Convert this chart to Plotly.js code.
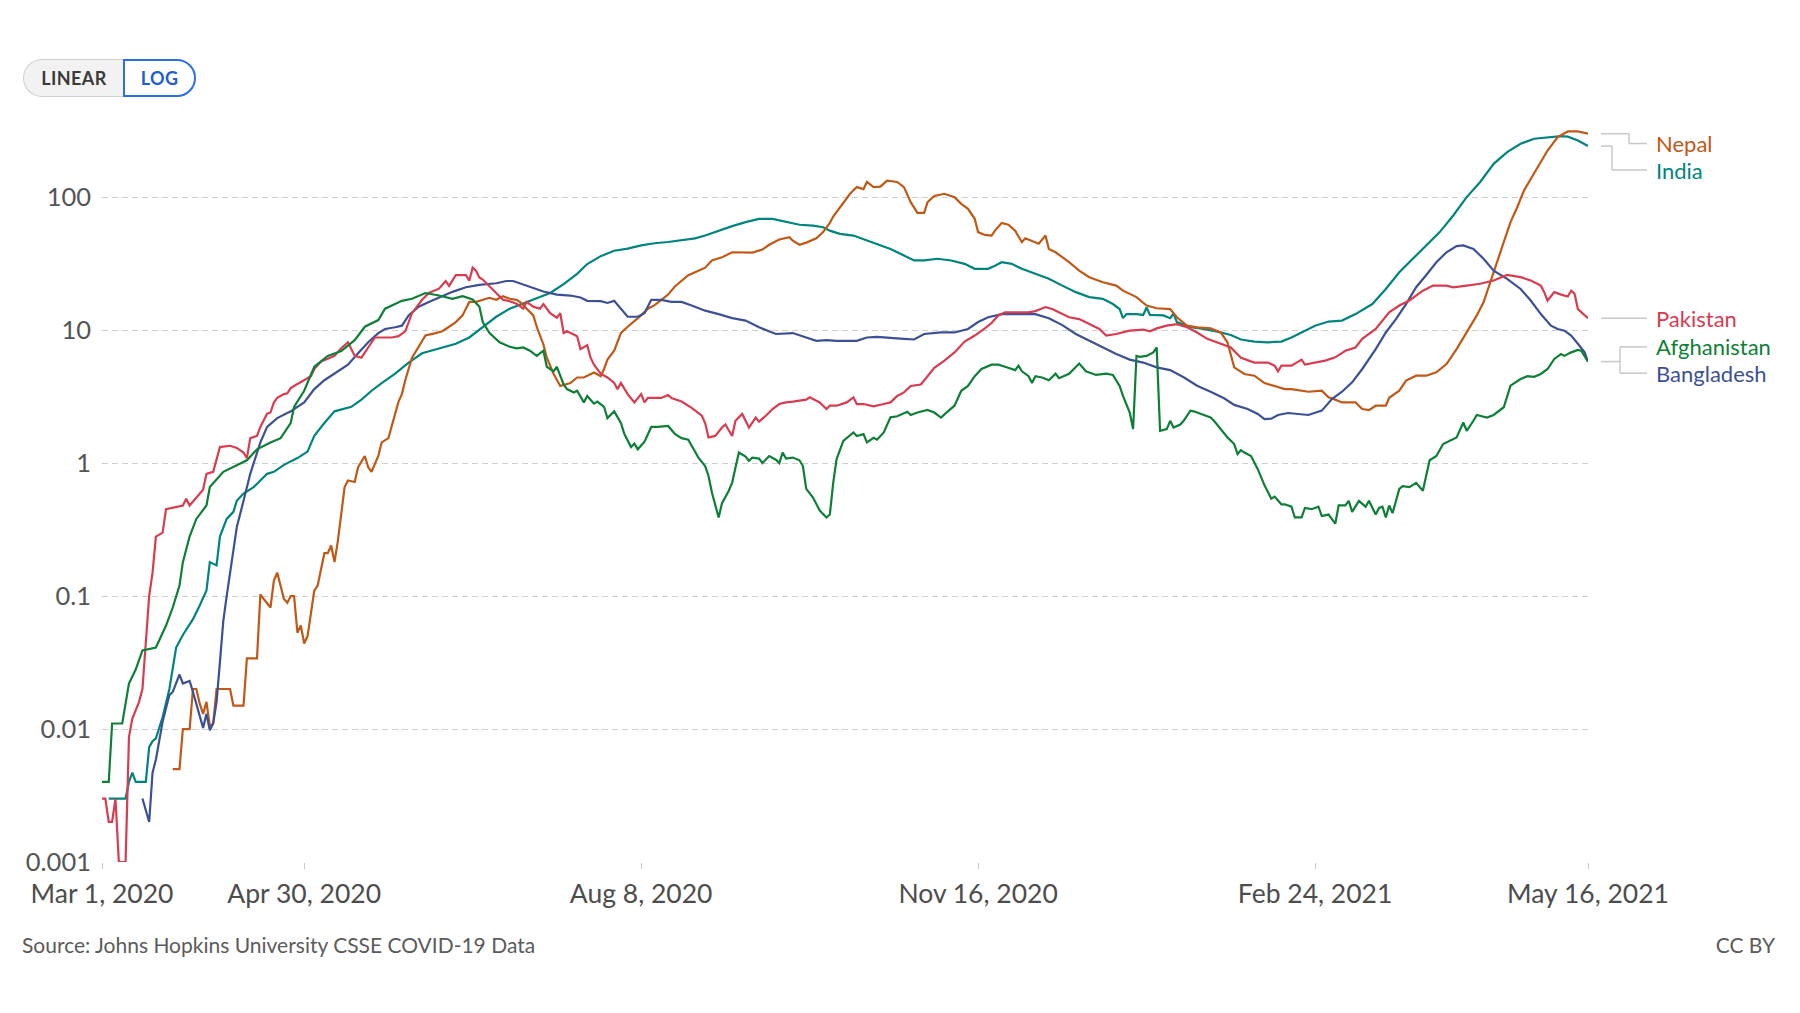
<!DOCTYPE html>
<html><head><meta charset="utf-8">
<script src="https://cdn.plot.ly/plotly-3.0.1.min.js"></script>
<style>
html,body{margin:0;padding:0;background:#fff;}
#wrap{position:relative;width:1800px;height:1013px;overflow:hidden;font-family:Lato,"DejaVu Sans",sans-serif;}
#chart{position:absolute;left:0;top:0;width:1800px;height:1013px;}
.btn{position:absolute;top:59px;height:38px;box-sizing:border-box;font-size:18px;font-weight:700;display:flex;align-items:center;justify-content:center;letter-spacing:0.4px;font-family:Lato,sans-serif;}
#lin{left:23px;width:101px;border:1.5px solid #cfcfcf;border-right:none;border-radius:19px 0 0 19px;background:#f2f2f2;color:#3a3a3a;}
#log{left:123px;width:73px;border:2px solid #2b6ee6;border-radius:0 19px 19px 0;background:#fff;color:#1f5fd1;}
.foot{position:absolute;font-size:21px;color:#5b5b5b;font-family:Lato,sans-serif;line-height:1;}
</style></head>
<body>
<div id="wrap">
  <div id="chart"></div>
  <div class="btn" id="lin">LINEAR</div>
  <div class="btn" id="log">LOG</div>
  <div class="foot" id="src" style="left:22px;top:934px;">Source: Johns Hopkins University CSSE COVID-19 Data</div>
  <div class="foot" id="cc" style="right:25px;top:934px;">CC BY</div>
</div>
<script>
// Daily new confirmed COVID-19 cases per million (7-day avg), days since Mar 1, 2020
const START_DATE = "2020-03-01";
const END_DATE = "2021-05-16";

const afghanistanDays = [0,2,3,6,8,10,12,16,19,21,23,24,26,28,31,32,36,40,43,46,50,53,56,57,60,63,67,71,75,78,82,84,89,92,96,100,104,107,110,112,113,115,118,121,123,125,127,129,131,132,134,135,137,138,140,141,143,144,146,147,149,150,152,154,155,157,158,159,161,163,165,168,170,172,174,175,177,179,180,181,183,184,186,187,189,191,192,193,195,196,198,200,201,202,203,205,207,208,209,211,213,215,216,217,218,220,223,224,226,227,229,230,232,234,236,239,240,242,245,247,249,251,253,255,257,259,261,264,266,268,271,272,273,275,276,277,279,281,283,284,287,290,292,295,298,300,302,303,305,306,307,308,310,312,313,314,316,317,318,320,321,323,324,326,329,330,332,334,336,337,338,339,341,343,345,347,348,350,351,353,354,356,357,359,361,362,364,366,367,369,370,371,373,375,376,378,379,380,381,382,383,385,386,388,390,392,394,396,398,400,402,404,405,407,408,411,413,416,418,421,423,425,427,429,431,433,434,436,438,439,441];
const afghanistanValues = [0.004,0.004,0.011,0.011,0.022,0.028,0.039,0.041,0.06,0.082,0.12,0.18,0.28,0.38,0.48,0.66,0.86,0.97,1.05,1.27,1.43,1.54,2.0,2.65,3.5,5.3,6.4,6.95,8.4,10.6,11.9,14.5,16.6,17.2,19,18.2,17.2,18,17,15,11.5,9.5,8.1,7.5,7.3,7.4,7.0,6.4,7.0,5.3,4.9,5.3,3.9,3.6,3.4,3.5,2.86,3.2,2.8,2.9,2.65,2.18,2.45,2.0,1.66,1.32,1.4,1.27,1.45,1.87,1.87,1.9,1.66,1.54,1.5,1.35,1.1,0.95,0.8,0.6,0.39,0.5,0.62,0.71,1.2,1.12,1.04,1.1,1.08,1.0,1.13,1.06,1.0,1.2,1.08,1.1,1.05,0.95,0.64,0.55,0.44,0.39,0.41,0.71,1.07,1.47,1.7,1.6,1.65,1.43,1.55,1.5,1.7,2.21,2.25,2.43,2.3,2.4,2.51,2.4,2.2,2.45,2.7,3.5,3.8,4.5,5.1,5.5,5.5,5.3,5.0,5.4,4.9,4.5,4.0,4.5,4.4,4.2,4.7,4.35,4.7,5.6,4.9,4.6,4.7,4.6,3.8,3.2,2.4,1.8,6.4,6.3,6.4,6.8,7.4,1.75,1.8,2.08,1.85,1.95,2.08,2.48,2.45,2.35,2.2,2.08,1.8,1.56,1.39,1.17,1.25,1.2,1.13,0.9,0.68,0.54,0.56,0.49,0.49,0.47,0.39,0.39,0.46,0.45,0.47,0.40,0.41,0.35,0.48,0.48,0.52,0.43,0.52,0.47,0.52,0.41,0.46,0.47,0.39,0.48,0.42,0.64,0.67,0.66,0.71,0.62,1.05,1.13,1.39,1.47,1.56,2.02,1.75,2.08,2.3,2.2,2.3,2.63,3.82,4.29,4.5,4.45,4.68,5.1,6.07,6.6,6.4,6.8,7.1,7.0,5.8];

const pakistanDays = [0,1,2,3,4,5,7,8,9,10,11,12,13,14,15,16,18,19,24,25,26,28,30,31,33,35,38,40,42,43,44,46,47,48,49,50,51,52,54,55,56,57,60,62,63,65,67,69,71,73,75,77,79,81,84,86,88,90,92,95,97,100,102,103,105,108,109,110,111,112,113,115,117,119,121,123,125,126,128,130,131,133,135,136,137,138,141,142,144,145,146,148,150,152,153,154,156,158,160,161,162,166,168,169,172,175,178,179,180,182,184,185,187,188,190,191,192,194,195,197,199,201,203,205,207,209,210,213,215,216,218,221,223,224,226,229,232,234,236,238,240,243,245,247,250,253,256,259,262,264,266,268,272,275,277,280,282,284,287,290,293,296,298,301,305,309,311,313,316,319,322,325,328,332,335,338,342,346,348,349,350,353,356,357,360,363,366,369,372,374,378,382,385,388,392,395,399,401,405,409,413,417,421,424,427,428,429,431,433,435,436,437,438,441];
const pakistanValues = [0.003,0.003,0.002,0.002,0.003,0.001,0.001,0.0087,0.012,0.0138,0.016,0.02,0.048,0.10,0.15,0.28,0.30,0.45,0.48,0.54,0.48,0.55,0.63,0.83,0.86,1.32,1.35,1.3,1.2,1.09,1.54,1.6,1.87,2.1,2.35,2.4,2.85,3.1,3.3,3.35,3.66,3.8,4.2,4.5,5.1,5.8,6.1,6.4,7.3,8.1,6.4,6.2,7.4,8.8,8.8,8.8,9.0,9.8,13.4,16.9,19,20.5,23.4,21.5,25.9,25.9,23.5,29.5,28,24.9,24,21.3,19,16.9,16.5,15.8,14.5,16.3,15,14.5,15.7,13.4,12.4,13.4,9.5,9.8,9.0,7.2,7.7,6.2,5.5,4.7,4.4,4.0,3.6,4.0,3.3,2.86,3.3,2.86,3.09,3.09,3.25,3.09,2.9,2.6,2.27,2.0,1.56,1.6,1.85,1.95,1.6,2.08,2.34,2.1,1.85,2.2,2.05,2.27,2.55,2.78,2.86,2.9,2.95,3.0,3.12,2.86,2.55,2.7,2.7,2.86,3.12,2.78,2.78,2.67,2.78,2.86,3.2,3.4,3.8,3.9,4.5,5.2,5.9,6.8,8.2,9.1,10.3,11.3,12.9,13.6,13.6,13.6,13.9,14.9,14.4,13.6,12.5,12.1,11.1,10.2,9.1,9.35,9.9,10.1,9.8,10.3,10.8,11.1,10.5,9.6,8.6,7.9,7.4,6.2,5.7,5.7,5.4,4.9,5.4,5.4,6.0,5.5,5.7,5.9,6.24,7.0,7.4,8.6,10.2,13.6,15.3,16.7,19.8,21.6,21.6,21,21.6,22.3,23.6,26,25,23.6,21.6,19.3,16.7,19.3,18.5,17.9,19.8,18.8,14.4,12.3];

const bangladeshDays = [12,14,15,16,18,20,21,23,24,26,27,29,30,31,32,33,34,35,36,37,39,40,42,44,47,49,52,56,60,63,66,69,73,76,79,82,84,87,89,91,94,97,100,104,108,112,117,120,122,125,128,131,135,139,142,144,148,150,152,154,156,159,161,163,166,169,172,175,179,183,187,191,195,200,205,209,212,215,218,224,227,230,234,238,241,244,249,253,257,260,263,267,270,277,281,285,289,293,297,301,305,309,313,317,321,325,329,333,336,340,343,345,347,349,352,356,358,362,365,368,371,374,378,381,384,387,390,393,396,399,402,404,407,410,413,417,421,424,427,430,432,434,436,438,440,441];
const bangladeshValues = [0.003,0.002,0.0047,0.0059,0.0114,0.018,0.019,0.0257,0.022,0.023,0.019,0.0128,0.0102,0.013,0.0098,0.011,0.016,0.032,0.065,0.10,0.22,0.33,0.52,0.83,1.43,1.87,2.18,2.45,2.86,3.6,4.2,4.7,5.5,6.7,8.1,9.5,10.2,10.5,10.8,12.9,15,16.3,17.6,19.4,21,21.9,22.5,23.4,23.4,22,20.5,19.5,18.5,18.2,17.6,16.6,16.5,16,16.6,14.5,12.6,12.6,13.4,16.9,16.9,16.3,16.3,15.3,14,13.2,12.3,11.8,10.5,9.35,9.5,8.8,8.3,8.4,8.3,8.3,8.8,8.9,8.8,8.6,8.5,9.35,9.6,9.6,10.2,11.5,12.5,13.2,13.2,13.2,12.3,10.9,9.36,8.3,7.4,6.6,6.0,5.7,5.25,5.0,4.42,3.82,3.44,3.07,2.74,2.55,2.34,2.14,2.16,2.3,2.38,2.34,2.3,2.48,3.03,3.44,4.05,5.1,7.2,9.6,12.1,15.7,21,26,32.4,38.5,42.8,43.3,40.8,34.4,28,24.3,20.4,16.7,13.2,10.8,10.2,9.9,9.1,7.9,6.8,5.8];

const indiaDays = [2,7,8,9,10,13,14,15,16,18,20,22,24,27,29,31,32,34,35,37,39,40,42,45,49,51,54,58,61,63,66,69,74,77,80,83,87,91,95,100,105,109,113,117,121,125,129,133,137,141,144,148,152,156,160,164,168,172,176,179,183,187,191,195,199,203,207,211,214,216,219,223,227,231,234,238,241,244,248,252,256,259,263,265,267,270,273,277,281,285,289,293,297,300,302,303,304,307,309,310,311,315,317,318,319,323,327,331,335,338,342,346,350,353,356,360,364,368,372,377,381,385,389,393,397,401,405,409,413,417,421,425,429,433,435,438,441];
const indiaValues = [0.003,0.003,0.004,0.0047,0.004,0.004,0.0073,0.0081,0.0085,0.0123,0.020,0.041,0.051,0.067,0.085,0.11,0.18,0.17,0.28,0.38,0.43,0.52,0.59,0.66,0.83,0.86,0.97,1.09,1.22,1.6,2.0,2.45,2.65,3.0,3.5,4.0,4.7,5.7,6.7,7.3,7.9,8.8,10.6,12.6,14.5,15.8,17.2,19,22.2,26.5,31.4,36,39.5,41,43.4,45,46,47.2,49,51.4,56.1,60.5,64.9,68.7,68.7,65.6,62,61,59.4,56,53,51.4,47.2,43.3,40.8,36.4,33.4,33.4,34.4,33.4,31.5,28.9,28.9,30.5,32.4,31.5,28.9,26.5,24.3,21.6,19.3,17.7,17.2,15.7,14.4,12.3,13.2,13.2,13,14.8,13,12.9,12.3,13.3,11.5,10.5,10.2,9.75,9.2,8.5,8.2,8.1,8.2,8.8,9.6,10.8,11.6,11.8,13.2,15.7,20.4,27.2,34.4,43.3,54.6,72.8,100,130,178,218,252,275,283,288,285,267,242];

const nepalDays = [21,23,24,26,27,28,29,30,31,32,33,34,38,39,42,43,46,47,48,50,51,52,54,55,56,57,58,59,60,61,63,64,66,67,68,69,70,72,73,75,76,78,79,80,82,83,85,86,87,88,89,90,92,94,96,99,101,103,105,107,108,109,111,113,115,117,119,121,123,124,126,128,129,131,132,133,134,136,137,139,141,143,146,148,149,150,152,154,156,158,160,162,164,166,168,170,172,174,177,179,181,184,187,190,193,196,198,201,204,205,207,209,212,214,216,217,219,220,222,224,226,227,229,231,233,236,238,240,242,244,245,247,249,250,253,255,257,259,260,262,264,265,267,269,271,273,274,276,278,280,281,283,287,290,293,297,301,303,307,310,313,317,319,322,325,329,332,334,336,339,342,345,348,351,353,356,358,362,364,366,368,372,374,376,378,381,382,385,387,390,393,396,399,402,404,406,408,410,412,414,416,418,420,422,424,427,429,432,435,438,441];
const nepalValues = [0.005,0.005,0.01,0.01,0.02,0.02,0.0155,0.013,0.016,0.0105,0.011,0.02,0.02,0.015,0.015,0.034,0.034,0.103,0.095,0.082,0.13,0.15,0.095,0.089,0.10,0.10,0.053,0.06,0.044,0.050,0.11,0.12,0.21,0.21,0.24,0.18,0.26,0.66,0.74,0.72,0.93,1.13,0.93,0.86,1.13,1.43,1.54,1.9,2.3,2.9,3.3,4.2,6.2,7.5,9.1,9.5,9.8,10.6,11.5,12.9,14.5,16.3,16.3,16.9,17.5,16.9,18,17.2,16.9,16.3,14.5,12.9,10.6,7.8,6.2,5.3,4.7,3.8,3.85,4.0,4.4,4.4,4.8,4.5,5.1,6.0,7.0,9.5,10.6,11.7,12.9,14.5,15.4,16.9,18.5,21.3,23.4,25.9,27.9,29.5,33.4,35.3,38.5,38.3,38.3,40.4,43.8,48,50,47,43.8,45.5,49.1,54.6,64.1,71.5,84.1,91.7,106,119,115,130,119,120,133,130,119,91.7,76.2,76.2,91.7,102,104,106,100,89,81.7,68.7,54.6,52,51.4,56,64,62,56,45.8,49,47,44.6,51.4,40.8,38.5,32.4,28,25,22.9,21.6,19.8,17.7,15.3,14.6,14.4,12.5,10.8,10.5,10.3,9.6,8.1,5.25,4.68,4.54,4.0,3.82,3.6,3.6,3.5,3.44,3.5,3.12,3.0,2.86,2.86,2.55,2.5,2.7,2.7,3.1,3.5,4.17,4.54,4.54,4.82,5.56,7.2,8.8,10.8,12.9,16.2,22.9,32.4,45.8,64.9,84,112,137,183,224,283,312,312,300];

const countryNames = ["Nepal","India","Pakistan","Afghanistan","Bangladesh"];
const countryColors = ["#C05917","#00847E","#D73C50","#0E7F36","#3C5096"];

const xTickVals = ["2020-03-01","2020-04-30","2020-08-08","2020-11-16","2021-02-24","2021-05-16"];
const xTickText = ["Mar 1, 2020","Apr 30, 2020","Aug 8, 2020","Nov 16, 2020","Feb 24, 2021","May 16, 2021"];
const yTickVals = [0.001,0.01,0.1,1,10,100];
const yTickText = ["0.001","0.01","0.1","1","10","100"];

const startMs = Date.UTC(2020,2,1);
function toDate(d){ return new Date(startMs + d*86400000).toISOString().slice(0,10); }

const seriesDays = {Nepal:nepalDays, India:indiaDays, Pakistan:pakistanDays, Afghanistan:afghanistanDays, Bangladesh:bangladeshDays};
const seriesValues = {Nepal:nepalValues, India:indiaValues, Pakistan:pakistanValues, Afghanistan:afghanistanValues, Bangladesh:bangladeshValues};

const drawOrder = ["India","Nepal","Bangladesh","Pakistan","Afghanistan"];
const traces = drawOrder.map(name=>{
  const i = countryNames.indexOf(name);
  return {
    x: seriesDays[name].map(toDate), y: seriesValues[name],
    type:"scatter", mode:"lines", name:name, hoverinfo:"skip",
    line:{color:countryColors[i], width:2.2}
  };
});

function lastVal(name){ const v = seriesValues[name]; return v[v.length-1]; }

// label layout: plot spans x 101.5..1588 px
const plotL = 101.5, plotW = 1486.5;
function px(p){ return (p - plotL)/plotW; }
const xStart = px(1601), xEnd = px(1647), xText = px(1654);
// label positions as log10 values (annotations) / raw values (shapes)
const labelLog = {Nepal:2.403, India:2.204, Pakistan:Math.log10(lastVal("Pakistan")), Afghanistan:0.874, Bangladesh:0.676};
const elbowX = {Nepal:px(1629), India:px(1612)};
const connColor = "#c8c8c8";
const shapes = [];
function seg(x0,y0,x1,y1){ shapes.push({type:"line",xref:"paper",yref:"y",x0:x0,x1:x1,y0:y0,y1:y1,line:{color:connColor,width:1.5}}); }
function raw(l){ return Math.pow(10,l); }
["Nepal","India"].forEach(n=>{
  const y0 = lastVal(n), yl = raw(labelLog[n]);
  seg(xStart,y0,elbowX[n],y0); seg(elbowX[n],y0,elbowX[n],yl); seg(elbowX[n],yl,xEnd,yl);
});
seg(xStart,lastVal("Pakistan"),xEnd,lastVal("Pakistan"));
const abY = lastVal("Afghanistan"), abX = px(1620);
const yA = raw(labelLog.Afghanistan), yB = raw(labelLog.Bangladesh);
seg(xStart,abY,abX,abY); seg(abX,yA,abX,yB);
seg(abX,yA,xEnd,yA); seg(abX,yB,xEnd,yB);

const annotations = countryNames.map((n,i)=>({
  xref:"paper", yref:"y", x:xText, y:labelLog[n], xanchor:"left", yanchor:"middle",
  text:n, showarrow:false, font:{family:"Lato, sans-serif", size:22, color:countryColors[i]}
}));

const layout = {
  width:1800, height:1013,
  margin:{l:101.5, r:212, t:124, b:150.5, pad:0},
  paper_bgcolor:"#fff", plot_bgcolor:"#fff",
  showlegend:false,
  font:{family:"Lato, sans-serif", color:"#4d4d4d"},
  xaxis:{type:"date", range:[START_DATE, END_DATE], showgrid:false, zeroline:false, showline:false,
    tickvals:xTickVals, ticktext:xTickText, ticks:"outside", ticklen:6, tickwidth:1, tickcolor:"#c8c8c8",
    tickfont:{size:26.5, color:"#4d4d4d"}, ticklabelstandoff:2, fixedrange:true},
  yaxis:{type:"log", range:[-3, 2.55], showgrid:true, gridcolor:"#cfcfcf", griddash:"6px,4px", gridwidth:1,
    zeroline:false, showline:false, ticks:"", tickvals:yTickVals, ticktext:yTickText,
    tickfont:{size:25.5, color:"#555"}, ticklabelstandoff:10, fixedrange:true},
  shapes:shapes, annotations:annotations
};

Plotly.newPlot("chart", traces, layout, {staticPlot:true, displayModeBar:false});
</script>
</body></html>
